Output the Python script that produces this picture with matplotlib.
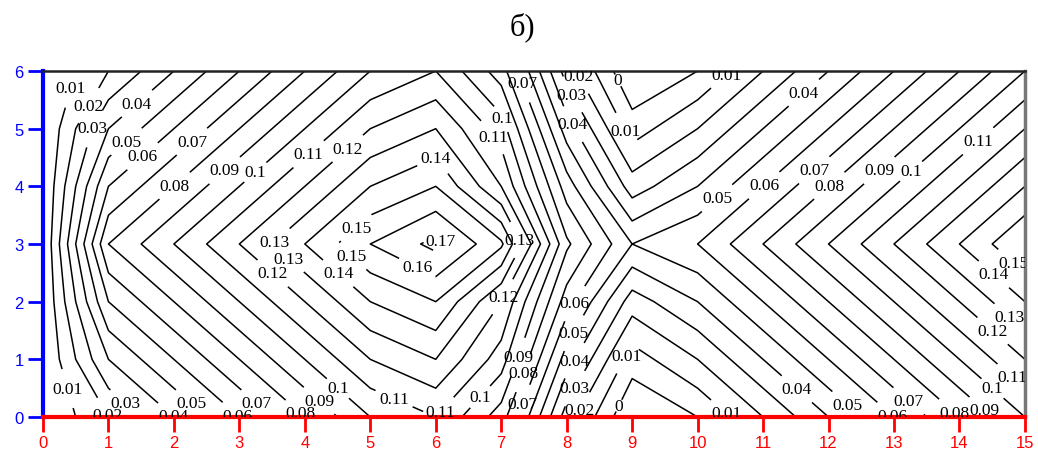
import numpy as np
import matplotlib
matplotlib.use("Agg")
import matplotlib.pyplot as plt

# node coordinates of the grid
xs = np.arange(0, 16)
ys = np.arange(0, 7)

# field values on the grid nodes, one list per row (y = 0 .. 6)
row_y0 = [0, 0.02, 0.04, 0.06, 0.08, 0.10, 0.11, 0.085, 0.025, -0.01, 0.0, 0.02, 0.04, 0.06, 0.08, 0.10]
row_y1 = [0, 0.04, 0.06, 0.08, 0.10, 0.12, 0.13, 0.105, 0.045, 0.005, 0.02, 0.04, 0.06, 0.08, 0.10, 0.12]
row_y2 = [0, 0.06, 0.08, 0.10, 0.12, 0.14, 0.15, 0.12, 0.065, 0.025, 0.04, 0.06, 0.08, 0.10, 0.12, 0.14]
row_y3 = [0, 0.08, 0.10, 0.12, 0.14, 0.16, 0.173, 0.152, 0.082, 0.05, 0.06, 0.08, 0.10, 0.12, 0.14, 0.16]
row_y4 = [0, 0.06, 0.08, 0.10, 0.12, 0.14, 0.15, 0.12, 0.065, 0.025, 0.04, 0.06, 0.08, 0.10, 0.12, 0.14]
row_y5 = [0, 0.04, 0.06, 0.08, 0.10, 0.12, 0.13, 0.105, 0.045, 0.005, 0.02, 0.04, 0.06, 0.08, 0.10, 0.12]
row_y6 = [0, 0.02, 0.04, 0.06, 0.08, 0.10, 0.11, 0.085, 0.025, -0.01, 0.0, 0.02, 0.04, 0.06, 0.08, 0.10]

levels = np.round(np.arange(0, 0.171, 0.01), 2)

# where the level labels sit
label_pos = [
    (0.31, 5.74), (0.53, 5.51), (1.44, 5.43), (0.79, 4.99), (1.28, 4.77), (2.28, 4.77),
    (1.53, 4.51), (2.02, 4.0), (2.78, 4.27), (3.27, 4.21), (4.08, 4.53), (4.66, 4.65),
    (6.02, 4.53), (3.54, 3.03), (4.80, 3.26), (3.77, 2.77), (4.69, 2.77), (3.54, 2.53),
    (4.54, 2.53), (6.06, 3.03), (5.76, 2.69), (7.3, 3.08), (7.03, 2.08), (6.9, 5.13),
    (6.83, 4.82), (7.29, 5.77), (8.16, 5.9), (8.77, 5.83), (10.45, 5.92), (8.05, 5.57),
    (8.05, 5.05), (9.03, 5.05), (11.64, 5.6), (14.28, 4.79), (10.31, 3.78), (11.03, 4.0),
    (11.79, 4.27), (12.02, 4.0), (12.78, 4.27), (13.27, 4.25), (14.9, 2.77), (14.57, 2.53),
    (14.82, 1.8), (14.45, 1.42), (14.9, 0.8), (14.54, 0.54), (14.5, 0.26), (13.9, 0.05),
    (13.21, 0.26), (13.0, 0.05), (12.33, 0.26), (11.56, 0.54), (8.13, 1.96), (8.13, 1.44),
    (8.13, 0.97), (8.13, 0.49), (8.17, 0.14), (8.74, 0.23), (10.45, 0.08), (9.01, 1.0),
    (7.21, 1.06), (7.29, 0.78), (7.26, 0.26), (6.6, 0.43), (6.06, 0.09), (5.38, 0.36),
    (4.54, 0.54), (4.2, 0.26), (3.93, 0.05), (3.28, 0.26), (3.0, 0.05), (2.28, 0.26),
    (2.02, 0.05), (1.28, 0.26), (1.02, 0.05), (0.52, 0.54),
]

Z = np.array([row_y0, row_y1, row_y2, row_y3, row_y4, row_y5, row_y6])
X, Y = np.meshgrid(xs, ys)

fig = plt.figure(figsize=(10.38, 4.52), dpi=100)
ax = fig.add_axes([0.0414, 0.0752, 0.946, 0.7655])

cs = ax.contour(X, Y, Z, levels=levels, colors="black", linewidths=1.1)
ax.clabel(cs, manual=label_pos, inline=True, inline_spacing=1,
          fmt=lambda v: f"{v:g}", fontsize=12.5)
# labels stay horizontal
for t in cs.labelTexts:
    t.set_family("Liberation Serif")
    t.set_rotation(0)

ax.set_xlim(0, 15)
ax.set_ylim(0, 6)
ax.set_xticks(range(0, 16))
ax.set_yticks(range(0, 7))

ax.spines["bottom"].set_color("red")
ax.spines["bottom"].set_linewidth(3)
ax.spines["left"].set_color("blue")
ax.spines["left"].set_linewidth(3)
ax.spines["top"].set_color("#222222")
ax.spines["top"].set_linewidth(1.8)
ax.spines["right"].set_color("#777777")
ax.spines["right"].set_linewidth(2.5)

ax.tick_params(axis="x", colors="red", length=11, width=2, pad=2, labelsize=12)
ax.tick_params(axis="y", colors="blue", length=11, width=2, pad=3, labelsize=12)
for lab in ax.get_xticklabels() + ax.get_yticklabels():
    lab.set_family("Liberation Sans")

fig.text(0.503, 0.94, "б)", ha="center", va="center", fontsize=22,
         family="Liberation Serif")

fig.savefig("out.png", dpi=100)
